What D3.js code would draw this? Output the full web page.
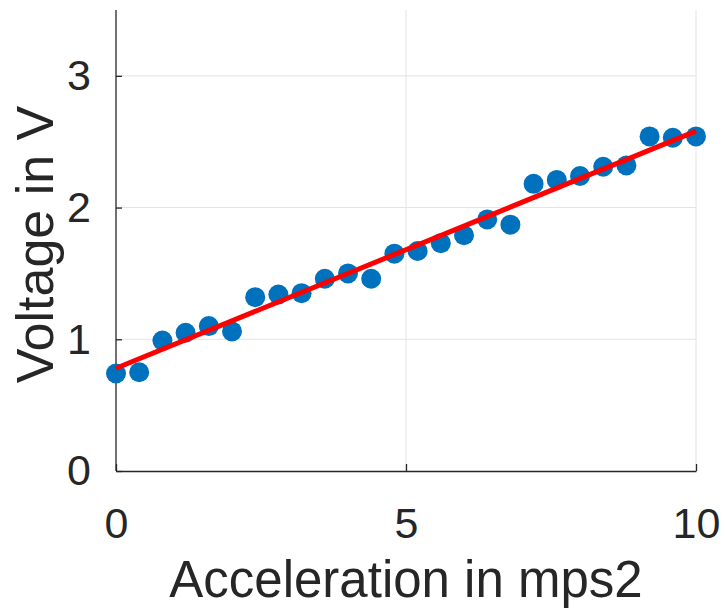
<!DOCTYPE html>
<html>
<head>
<meta charset="utf-8">
<script src="https://cdn.jsdelivr.net/npm/d3@7"></script>
<style>
  body { margin: 0; background: #fff; }
  svg text { font-family: "Liberation Sans", Arial, Helvetica, sans-serif; fill: #262626; }
</style>
</head>
<body>
<div id="chart"></div>
<script>
// measured points
var accel = [0, 0.4, 0.8, 1.2, 1.6, 2.0, 2.4, 2.8, 3.2, 3.6, 4.0, 4.4, 4.8,
             5.2, 5.6, 6.0, 6.4, 6.8, 7.2, 7.6, 8.0, 8.4, 8.8, 9.2, 9.6, 10.0];
var voltage = [0.74, 0.75, 0.99, 1.05, 1.10, 1.06, 1.32, 1.34, 1.35, 1.46, 1.50, 1.46, 1.65,
               1.67, 1.73, 1.79, 1.91, 1.87, 2.18, 2.21, 2.24, 2.31, 2.32, 2.54, 2.53, 2.54];

// fitted line endpoints
var fitX = [0, 10];
var fitY = [0.78, 2.58];

var xTicks = [0, 5, 10];
var yTicks = [0, 1, 2, 3];

var svgWidth = 725;
var svgHeight = 610;
var margin = { top: 10, right: 29, bottom: 139, left: 116 };
var chartWidth = svgWidth - margin.left - margin.right;
var chartHeight = svgHeight - margin.top - margin.bottom;

var svg = d3.select("#chart").append("svg")
  .attr("width", svgWidth)
  .attr("height", svgHeight);

var chartGroup = svg.append("g")
  .attr("transform", `translate(${margin.left}, ${margin.top})`);

var x = d3.scaleLinear().domain([0, 10]).range([0, chartWidth]);
var y = d3.scaleLinear().domain([0, 3.5]).range([chartHeight, 0]);

// grid
chartGroup.append("g")
  .selectAll("line")
  .data(yTicks.filter(d => d > 0))
  .enter().append("line")
  .attr("x1", 0).attr("x2", chartWidth)
  .attr("y1", d => y(d)).attr("y2", d => y(d))
  .attr("stroke", "#e3e3e3").attr("stroke-width", 1);

chartGroup.append("g")
  .selectAll("line")
  .data(xTicks.filter(d => d > 0))
  .enter().append("line")
  .attr("x1", d => x(d)).attr("x2", d => x(d))
  .attr("y1", 0).attr("y2", chartHeight)
  .attr("stroke", "#e3e3e3").attr("stroke-width", 1);

// axes (ticks point inward like matlab)
var bottomAxis = d3.axisBottom(x).tickValues(xTicks).tickFormat(d3.format("d"))
  .tickSizeInner(-7).tickSizeOuter(0).tickPadding(36);
var leftAxis = d3.axisLeft(y).tickValues(yTicks).tickFormat(d3.format("d"))
  .tickSizeInner(-6).tickSizeOuter(0).tickPadding(25);

var xg = chartGroup.append("g")
  .attr("transform", `translate(0, ${chartHeight})`)
  .call(bottomAxis);
var yg = chartGroup.append("g").call(leftAxis);

[xg, yg].forEach(function(g) {
  g.select(".domain").attr("stroke", "#262626").attr("stroke-width", 1.3);
  g.selectAll(".tick line").attr("stroke", "#262626").attr("stroke-width", 1.3);
  g.selectAll(".tick text")
    .attr("font-size", "43px")
    .attr("font-family", "Liberation Sans, Arial, sans-serif")
    .attr("fill", "#262626");
});
xg.selectAll(".tick text").attr("dy", "0.71em");
yg.select(".domain").attr("d", `M0,${chartHeight}V0`);

// scatter
var pts = accel.map((a, i) => ({ a: a, v: voltage[i] }));
chartGroup.selectAll("circle")
  .data(pts)
  .enter()
  .append("circle")
  .attr("cx", d => x(d.a))
  .attr("cy", d => y(d.v))
  .attr("r", 10)
  .attr("fill", "#0072BD");

// fit line
var line = d3.line().x(d => x(d[0])).y(d => y(d[1]));
chartGroup.append("path")
  .datum(fitX.map((d, i) => [d, fitY[i]]))
  .attr("d", line)
  .attr("fill", "none")
  .attr("stroke", "#FF0000")
  .attr("stroke-width", 5);

// axis labels
chartGroup.append("text")
  .attr("x", chartWidth / 2)
  .attr("y", chartHeight + 126)
  .attr("text-anchor", "middle")
  .attr("font-size", "51px")
  .text("Acceleration in mps2");

chartGroup.append("text")
  .attr("transform", "rotate(-90)")
  .attr("x", -(chartHeight / 2 + 4))
  .attr("y", -63)
  .attr("text-anchor", "middle")
  .attr("font-size", "52px")
  .text("Voltage in V");
</script>
</body>
</html>
